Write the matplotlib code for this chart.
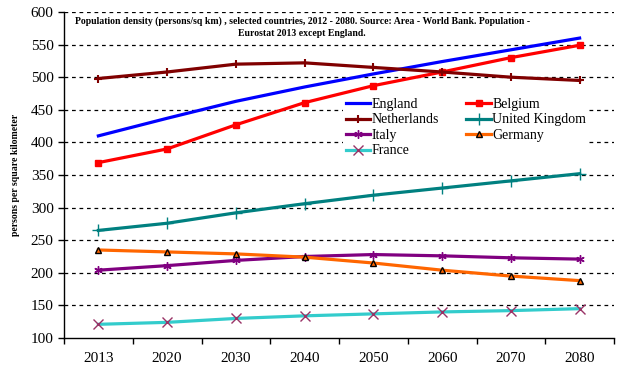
import matplotlib.pyplot as plt
import numpy as np

years = ["2013", "2020", "2030", "2040", "2050", "2060", "2070", "2080"]

england = [410, 437, 463, 485, 505, 524, 542, 560]
belgium = [369, 390, 427, 461, 487, 508, 530, 549]
netherlands = [498, 508, 520, 522, 515, 508, 500, 495]
uk = [265, 276, 292, 306, 319, 330, 341, 352]
italy = [204, 211, 219, 225, 228, 226, 223, 221]
germany = [235, 232, 229, 224, 215, 204, 195, 188]
france = [121, 124, 130, 134, 137, 140, 142, 145]

plt.rcParams["font.family"] = ["Liberation Serif", "DejaVu Serif"]

fig = plt.figure(figsize=(6.28, 3.80), dpi=100)
ax = fig.add_axes([64 / 628, 42 / 380, 550 / 628, 326 / 380])

x = np.arange(len(years))
lw = 2.3

l_eng, = ax.plot(x, england, color="#0000FF", lw=lw, label="England")
l_bel, = ax.plot(x, belgium, color="#FF0000", lw=lw, marker="s", ms=5, label="Belgium")
l_ned, = ax.plot(x, netherlands, color="#800000", lw=lw, marker="+", ms=6, mew=1.5,
                 label="Netherlands")
l_uk, = ax.plot(x, uk, color="#008080", lw=lw, marker="+", ms=8, mew=1,
                label="United Kingdom")
l_ita, = ax.plot(x, italy, color="#800080", lw=lw, marker=(6, 2, 0), ms=6, mew=1,
                 label="Italy")
l_ger, = ax.plot(x, germany, color="#FF6600", lw=lw, marker="^", ms=5, mfc="#FF6600",
                 mec="black", mew=1, label="Germany")
l_fra, = ax.plot(x, france, color="#33CCCC", lw=lw, marker="x", ms=7, mew=1,
                 mec="#993366", label="France")

ax.set_xlim(-0.5, 7.5)
ax.set_ylim(100, 600)
ax.set_yticks(range(100, 601, 50))
ax.set_xticks(np.arange(-0.5, 8, 1))
ax.set_xticklabels([])
ax.set_xticks(x, minor=True)
ax.set_xticklabels(years, minor=True)
ax.tick_params(axis="x", which="minor", length=0, pad=10, labelsize=11)
ax.tick_params(axis="x", which="major", length=4, direction="out", width=1)
ax.tick_params(axis="y", length=4, direction="out", width=1, labelsize=11)

for v in range(150, 601, 50):
    ax.axhline(v, color="black", lw=0.9, ls=(0, (3, 3)), zorder=0)

for s in ["top", "right"]:
    ax.spines[s].set_visible(False)
ax.spines["left"].set_linewidth(1)
ax.spines["bottom"].set_linewidth(1)

ax.set_ylabel("persons per square kilometer", fontsize=7, fontweight="bold",
              labelpad=8)

ax.text(0.433, 0.985,
        "Population density (persons/sq km) , selected countries, 2012 - 2080. Source: Area - World Bank. Population -\n"
        "Eurostat 2013 except England.",
        transform=ax.transAxes, ha="center", va="top", fontsize=7,
        fontweight="bold", linespacing=1.4)

# row-wise legend order like the original
handles = [l_eng, l_ned, l_ita, l_fra, l_bel, l_uk, l_ger]
leg = ax.legend(handles=handles, loc="upper left", bbox_to_anchor=(0.507, 0.745),
                ncol=2, frameon=True, fontsize=10, handlelength=1.75,
                handletextpad=0.1, columnspacing=2.0, labelspacing=0.18,
                borderaxespad=0, borderpad=0.2, fancybox=False)
leg.get_frame().set_facecolor("white")
leg.get_frame().set_edgecolor("none")
leg.get_frame().set_alpha(1)

plt.savefig("out.png", dpi=100)
